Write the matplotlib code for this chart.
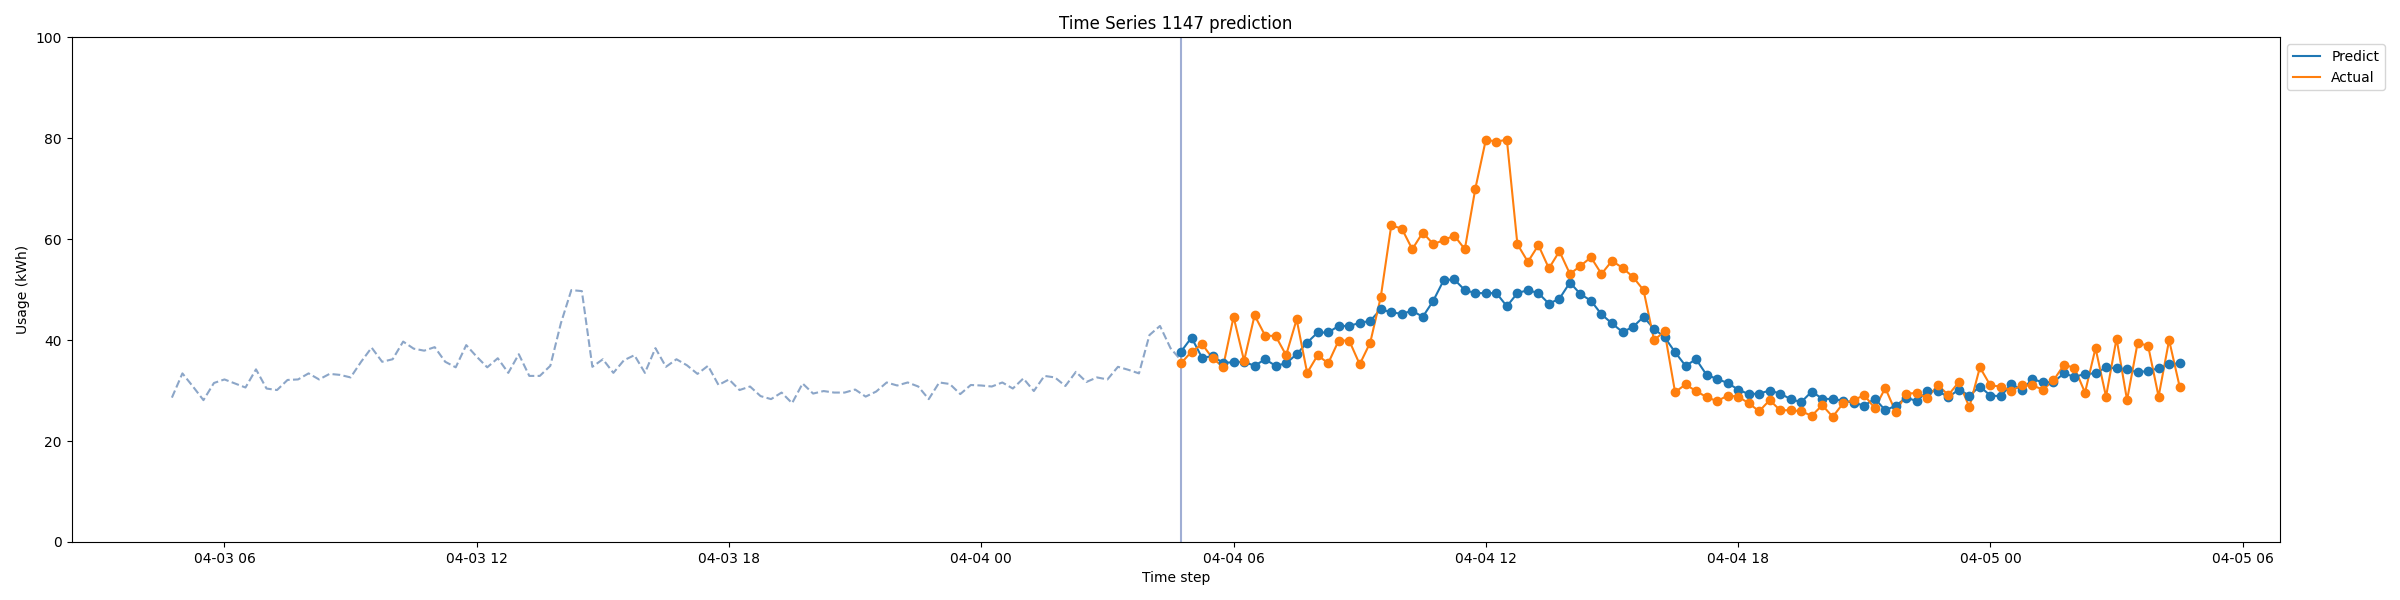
import matplotlib
matplotlib.use("Agg")
import matplotlib.pyplot as plt
import matplotlib.dates as mdates
import pandas as pd

history_start = "2024-04-03 04:45"
forecast_start = "2024-04-04 04:45"
freq = "15min"

history = [
    28.6, 33.4, 30.8, 28.1, 31.5, 32.2, 31.4, 30.6, 34.2, 30.4,
    30.1, 32.1, 32.2, 33.4, 32.2, 33.3, 33.1, 32.6, 35.7, 38.5,
    35.7, 36.2, 39.7, 38.3, 37.9, 38.6, 35.7, 34.6, 39.0, 36.7,
    34.6, 36.4, 33.5, 37.2, 32.9, 32.9, 34.9, 43.3, 49.9, 49.7,
    34.7, 36.2, 33.5, 36.0, 37.0, 33.5, 38.4, 34.7, 36.2, 35.0,
    33.3, 34.9, 31.1, 32.2, 30.1, 30.8, 28.9, 28.3, 29.6, 27.5,
    31.4, 29.4, 29.9, 29.6, 29.6, 30.2, 28.8, 29.8, 31.6, 31.0,
    31.6, 30.8, 28.3, 31.6, 31.3, 29.3, 31.1, 31.0, 30.8, 31.6,
    30.4, 32.4, 29.9, 32.9, 32.6, 30.9, 33.7, 31.7, 32.6, 32.2,
    34.7, 34.1, 33.4, 41.0, 42.8, 38.4, 36.0,
]

predict = [
    37.7, 40.5, 36.5, 36.8, 35.5, 35.6, 35.7, 34.9, 36.2, 34.9,
    35.4, 37.2, 39.5, 41.5, 41.5, 42.8, 42.8, 43.4, 43.8, 46.1,
    45.5, 45.2, 45.8, 44.6, 47.8, 51.9, 52.0, 49.9, 49.3, 49.3,
    49.3, 46.7, 49.3, 49.9, 49.3, 47.2, 48.2, 51.4, 49.1, 47.8,
    45.1, 43.3, 41.6, 42.6, 44.6, 42.2, 40.6, 37.6, 34.9, 36.2,
    33.1, 32.3, 31.5, 30.2, 29.3, 29.4, 30.0, 29.4, 28.3, 27.7,
    29.8, 28.4, 28.3, 28.0, 27.6, 27.0, 28.4, 26.1, 27.0, 28.6,
    27.9, 29.9, 29.9, 28.7, 30.2, 29.0, 30.8, 29.0, 28.9, 31.3,
    30.1, 32.3, 31.6, 31.7, 33.4, 32.7, 33.3, 33.4, 34.6, 34.4,
    34.2, 33.6, 33.9, 34.4, 35.2, 35.4,
]

actual = [
    35.4, 37.7, 39.2, 36.4, 34.7, 44.6, 35.9, 44.9, 40.9, 40.8,
    37.0, 44.1, 33.5, 37.0, 35.4, 39.9, 39.9, 35.2, 39.5, 48.5,
    62.7, 62.1, 58.0, 61.3, 59.0, 59.8, 60.7, 58.0, 70.0, 79.7,
    79.3, 79.7, 59.0, 55.5, 58.8, 54.2, 57.6, 53.1, 54.7, 56.4,
    53.1, 55.7, 54.3, 52.5, 49.9, 40.0, 41.7, 29.7, 31.2, 29.9,
    28.7, 27.9, 29.0, 28.8, 27.5, 25.9, 28.1, 26.1, 26.1, 25.9,
    25.0, 27.1, 24.8, 27.5, 28.1, 29.1, 26.5, 30.5, 25.7, 29.4,
    29.5, 28.5, 31.1, 29.1, 31.7, 26.7, 34.6, 31.0, 30.8, 30.0,
    31.0, 31.0, 30.2, 32.0, 35.1, 34.5, 29.6, 38.4, 28.8, 40.3,
    28.1, 39.4, 38.9, 28.8, 40.0, 30.8,
]

title = "Time Series 1147 prediction"
xlabel = "Time step"
ylabel = "Usage (kWh)"

t_hist = pd.date_range(history_start, periods=len(history), freq=freq)
t_pred = pd.date_range(forecast_start, periods=len(predict), freq=freq)

fig = plt.figure(figsize=(24, 6), dpi=100)
ax = fig.add_axes([0.0298, 0.0967, 0.9202, 0.8413])

ax.plot(t_hist, history, linestyle="--", color="#8ca6c8", linewidth=1.5)
ax.axvline(t_pred[0], color="#a0aed4", linewidth=1.5)

ax.plot(t_pred, predict, color="C0", linewidth=1.5, label="Predict")
ax.scatter(t_pred, predict, color="C0", s=36, zorder=3)
ax.plot(t_pred, actual, color="C1", linewidth=1.5, label="Actual")
ax.scatter(t_pred, actual, color="C1", s=36, zorder=3)

ax.set_ylim(0, 100)
ax.xaxis.set_major_locator(mdates.HourLocator(byhour=[0, 6, 12, 18]))
ax.xaxis.set_major_formatter(mdates.DateFormatter("%m-%d %H"))

ax.set_title(title)
ax.set_xlabel(xlabel)
ax.set_ylabel(ylabel)
ax.legend(loc="upper left", bbox_to_anchor=(1.0, 1.0))

fig.savefig("out.png", dpi=100)
